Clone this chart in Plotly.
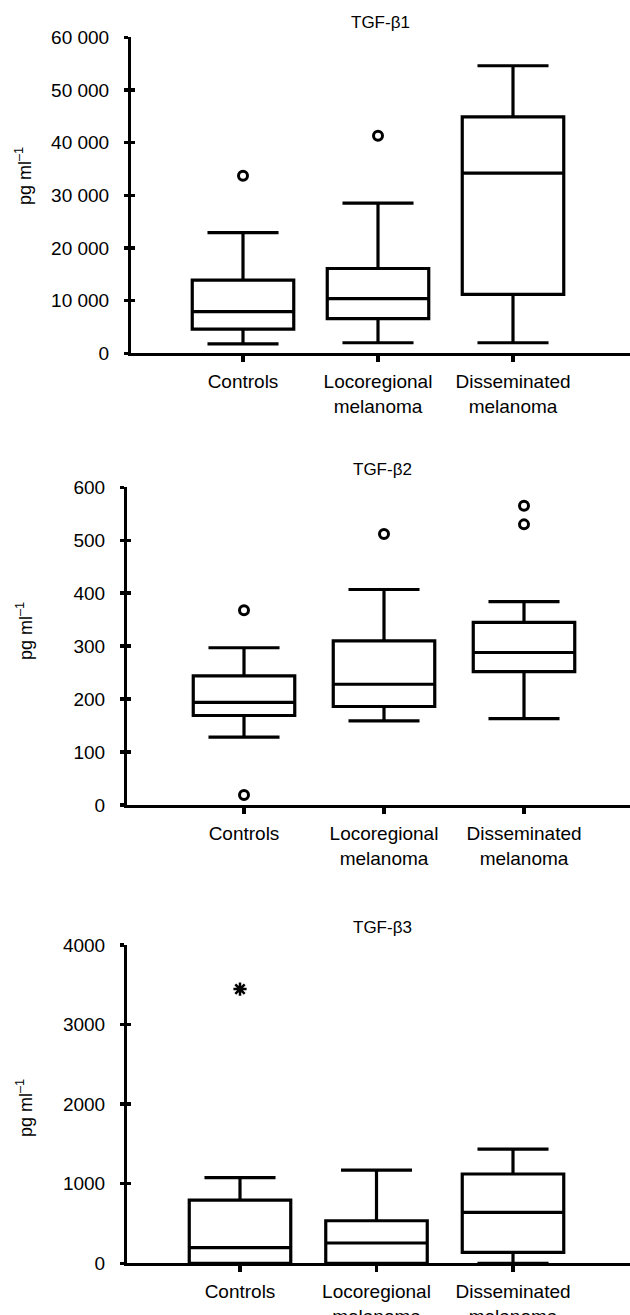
import plotly.graph_objects as go

# ---------------- data ----------------
categories = ["Controls", "Locoregional<br>melanoma", "Disseminated<br>melanoma"]
cat_pos = [1, 2, 3]

titles = ["TGF-β1", "TGF-β2", "TGF-β3"]

# TGF-beta1 (pg/ml)
b1_low = [1800, 2000, 2000]
b1_q1 = [4600, 6600, 11200]
b1_med = [7900, 10400, 34200]
b1_q3 = [13900, 16100, 44900]
b1_high = [22900, 28500, 54600]
b1_out_cat = [1, 2]
b1_out_val = [33700, 41300]
b1_ticks = [0, 10000, 20000, 30000, 40000, 50000, 60000]
b1_ticktext = ["0", "10 000", "20 000", "30 000", "40 000", "50 000", "60 000"]

# TGF-beta2 (pg/ml)
b2_low = [128, 159, 163]
b2_q1 = [169, 186, 252]
b2_med = [194, 228, 288]
b2_q3 = [244, 310, 345]
b2_high = [297, 407, 384]
b2_out_cat = [1, 1, 2, 3, 3]
b2_out_val = [368, 19, 512, 530, 565]
b2_ticks = [0, 100, 200, 300, 400, 500, 600]
b2_ticktext = ["0", "100", "200", "300", "400", "500", "600"]

# TGF-beta3 (pg/ml)
b3_low = [0, 0, 0]
b3_q1 = [0, 0, 138]
b3_med = [196, 255, 640]
b3_q3 = [795, 535, 1122]
b3_high = [1076, 1172, 1436]
b3_ext_cat = [1]
b3_ext_val = [3446]
b3_ticks = [0, 1000, 2000, 3000, 4000]
b3_ticktext = ["0", "1000", "2000", "3000", "4000"]

# ---------------- layout helpers ----------------
W, H = 630, 1315
FONT = "Liberation Sans, Arial, Helvetica, sans-serif"

def py(px):
    return 1 - px / H

def px_x(px):
    return px / W

panels = [
    dict(ax=131, c1=243, c3=513, top=37.3, bot=353.3, ymax=60000,
         title_y=23, title_x=380, ylab_y=176),
    dict(ax=127, c1=244, c3=524, top=487.3, bot=805.0, ymax=600,
         title_y=469, title_x=383, ylab_y=631),
    dict(ax=127, c1=240, c3=513, top=945.0, bot=1263.3, ymax=4000,
         title_y=927, title_x=383, ylab_y=1108),
]

data_sets = [
    (b1_low, b1_q1, b1_med, b1_q3, b1_high, b1_ticks, b1_ticktext),
    (b2_low, b2_q1, b2_med, b2_q3, b2_high, b2_ticks, b2_ticktext),
    (b3_low, b3_q1, b3_med, b3_q3, b3_high, b3_ticks, b3_ticktext),
]

fig = go.Figure()
annotations = []
layout_axes = {}

for i, (p, ds) in enumerate(zip(panels, data_sets)):
    n = "" if i == 0 else str(i + 1)
    xa, ya = "x" + n, "y" + n
    low, q1, med, q3, high, ticks, ticktext = ds
    s = (p["c3"] - p["c1"]) / 2.0
    xr = [1 - (p["c1"] - p["ax"]) / s, 3 + (W - p["c3"]) / s]
    box_w = 101.5 / s
    for j in range(3):
        fig.add_trace(go.Box(
            x=[cat_pos[j]], q1=[q1[j]], median=[med[j]], q3=[q3[j]],
            lowerfence=[low[j]], upperfence=[high[j]],
            width=box_w, whiskerwidth=0.7,
            fillcolor="rgba(255,255,255,0)",
            line=dict(color="black", width=3.2),
            boxpoints=False, showlegend=False, hoverinfo="skip",
            xaxis=xa, yaxis=ya,
        ))
    layout_axes["xaxis" + n] = dict(
        domain=[px_x(p["ax"]), 1], range=xr, anchor=ya, automargin=False,
        tickmode="array", tickvals=cat_pos, ticktext=categories,
        ticks="outside", ticklen=6, tickwidth=3.5, tickcolor="black",
        showline=True, linewidth=3, linecolor="black",
        showgrid=False, zeroline=False, fixedrange=True,
        tickfont=dict(family=FONT, size=19, color="black"),
        ticklabelstandoff=3,
    )
    layout_axes["yaxis" + n] = dict(
        domain=[py(p["bot"]), py(p["top"])], range=[0, p["ymax"]], anchor=xa,
        automargin=False,
        tickmode="array", tickvals=ticks, ticktext=ticktext,
        ticks="outside", ticklen=4, tickwidth=3.5, tickcolor="black",
        showline=True, linewidth=3, linecolor="black",
        showgrid=False, zeroline=False, fixedrange=True,
        tickfont=dict(family=FONT, size=19, color="black"),
        ticklabelstandoff=11,
    )
    # overlay axis: inward half of the crossing y ticks
    k = str(i + 4)
    layout_axes["yaxis" + k] = dict(
        domain=[py(p["bot"]), py(p["top"])], range=[0, p["ymax"]],
        overlaying=ya, anchor=xa, side="left", automargin=False,
        tickmode="array", tickvals=ticks, showticklabels=False,
        ticks="inside", ticklen=4, tickwidth=3.5, tickcolor="black",
        showline=False, showgrid=False, zeroline=False, fixedrange=True,
    )
    fig.add_trace(go.Scatter(
        x=[None], y=[None], xaxis=xa, yaxis="y" + k, mode="markers",
        showlegend=False, hoverinfo="skip",
    ))
    annotations.append(dict(
        text=titles[i], xref="paper", yref="paper",
        x=px_x(p["title_x"]), y=py(p["title_y"]), xanchor="center", yanchor="middle",
        showarrow=False, font=dict(family=FONT, size=17, color="black"),
    ))
    annotations.append(dict(
        text="pg ml<sup>–1</sup>", xref="paper", yref="paper", textangle=-90,
        x=px_x(24), y=py(p["ylab_y"]), xanchor="center", yanchor="middle",
        showarrow=False, font=dict(family=FONT, size=18, color="black"),
    ))

# outliers
fig.add_trace(go.Scatter(
    x=b1_out_cat, y=b1_out_val, mode="markers", xaxis="x", yaxis="y",
    marker=dict(symbol="circle-open", size=9, color="black", line=dict(width=3, color="black")),
    showlegend=False, cliponaxis=False, hoverinfo="skip",
))
fig.add_trace(go.Scatter(
    x=b2_out_cat, y=b2_out_val, mode="markers", xaxis="x2", yaxis="y2",
    marker=dict(symbol="circle-open", size=9, color="black", line=dict(width=3, color="black")),
    showlegend=False, cliponaxis=False, hoverinfo="skip",
))
fig.add_trace(go.Scatter(
    x=b3_ext_cat, y=b3_ext_val, mode="markers", xaxis="x3", yaxis="y3",
    marker=dict(symbol="asterisk-open", size=11, color="black", line=dict(width=2.5, color="black")),
    showlegend=False, cliponaxis=False, hoverinfo="skip",
))

fig.update_layout(
    width=W, height=H,
    margin=dict(l=0, r=0, t=0, b=0, autoexpand=False),
    paper_bgcolor="white", plot_bgcolor="white",
    font=dict(family=FONT, color="black"),
    annotations=annotations,
    showlegend=False,
    **layout_axes,
)

fig.write_html(
    "out.html",
    config={"displayModeBar": False, "staticPlot": True},
    post_script="document.body.style.margin='0';document.body.style.padding='0';"
                "document.body.style.overflow='hidden';",
)
